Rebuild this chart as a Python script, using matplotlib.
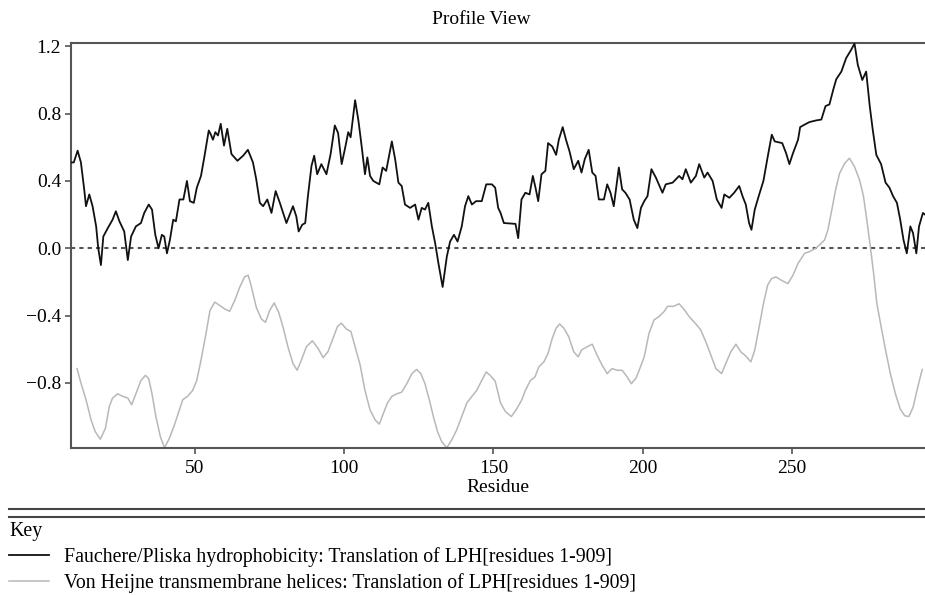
import matplotlib
matplotlib.use("Agg")
import matplotlib.pyplot as plt
from matplotlib.lines import Line2D

plt.rcParams['font.family'] = ['Liberation Serif', 'DejaVu Serif']
plt.rcParams['font.size'] = 14

# Fauchere/Pliska hydrophobicity
hyd_res = [8.5, 9.5, 10.8, 11.9, 13.0, 13.6, 14.7, 15.8, 17.0, 17.7, 18.6, 19.4, 20.9, 22.5, 23.6,
           24.8, 26.4, 27.6, 28.7, 30.3, 32.0, 33.1, 34.6, 35.7, 36.8, 37.9, 39.0, 39.8, 40.7, 41.7,
           42.8, 43.7, 44.9, 46.2, 47.4, 48.4, 49.7, 50.7, 52.1, 53.2, 54.7, 55.3, 56.1, 56.9, 57.8,
           58.7, 59.8, 60.9, 62.3, 64.3, 66.2, 67.8, 69.5, 70.6, 71.8, 72.9, 74.3, 75.7, 77.1, 78.5,
           80.7, 82.9, 84.0, 84.8, 86.0, 87.0, 87.9, 89.1, 90.0, 91.0, 92.4, 94.1, 95.5, 96.9, 98.0,
           99.2, 100.4, 101.4, 102.2, 103.7, 104.8, 105.9, 107.0, 107.8, 108.7, 109.8, 111.8, 112.9,
           114.1, 116.0, 117.1, 118.2, 119.3, 120.4, 122.1, 123.8, 124.9, 126.0, 127.1, 128.2, 129.4,
           130.5, 131.6, 133.0, 134.4, 135.5, 136.8, 138.0, 139.4, 140.5, 141.6, 142.8, 144.2, 146.1,
           147.6, 149.5, 150.6, 151.6, 152.4, 153.5, 157.4, 158.3, 159.4, 160.7, 162.1, 163.2, 164.1,
           165.0, 166.1, 167.4, 168.3, 169.7, 171.0, 171.9, 173.2, 174.3, 175.5, 176.9, 178.4, 179.5,
           180.6, 181.9, 183.1, 184.2, 185.3, 187.0, 188.1, 189.2, 190.3, 192.0, 193.1, 194.2, 195.6,
           197.0, 198.2, 199.4, 200.5, 201.6, 202.9, 204.4, 206.6, 207.7, 210.0, 212.2, 213.3, 214.4,
           216.1, 217.8, 218.9, 220.6, 221.7, 223.4, 224.8, 226.4, 227.3, 229.0, 230.6, 232.3, 233.4,
           234.5, 235.6, 236.4, 237.5, 239.0, 240.4, 241.8, 243.2, 244.2, 246.7, 248.0, 249.1, 250.3,
           252.0, 252.7, 254.2, 255.8, 258.1, 259.8, 261.2, 262.5, 263.9, 264.8, 266.5, 268.1, 269.8,
           270.9, 272.0, 273.5, 274.8, 276.0, 277.0, 278.2, 279.8, 281.3, 282.6, 283.8, 285.1, 286.2,
           287.3, 288.4, 289.6, 290.5, 291.6, 292.5, 293.8, 294.5]
hyd_val = [0.51, 0.51, 0.58, 0.51, 0.35, 0.25, 0.32, 0.25, 0.13, 0.0, -0.10, 0.07, 0.12, 0.17, 0.22,
           0.16, 0.10, -0.07, 0.07, 0.13, 0.15, 0.21, 0.26, 0.23, 0.08, 0.0, 0.08, 0.07, -0.03, 0.05,
           0.17, 0.16, 0.29, 0.29, 0.40, 0.28, 0.27, 0.36, 0.43, 0.54, 0.70, 0.68, 0.645, 0.69, 0.67,
           0.74, 0.61, 0.71, 0.56, 0.52, 0.55, 0.585, 0.51, 0.41, 0.27, 0.25, 0.29, 0.21, 0.34, 0.27,
           0.15, 0.25, 0.19, 0.10, 0.14, 0.15, 0.31, 0.49, 0.55, 0.44, 0.50, 0.44, 0.56, 0.73, 0.685,
           0.50, 0.60, 0.69, 0.66, 0.88, 0.76, 0.605, 0.44, 0.54, 0.43, 0.40, 0.38, 0.48,
           0.46, 0.635, 0.53, 0.39, 0.37, 0.26, 0.24, 0.26, 0.17, 0.24, 0.23, 0.27, 0.13,
           0.03, -0.09, -0.23, -0.05, 0.04, 0.08, 0.04, 0.13, 0.25, 0.31, 0.26, 0.28, 0.28,
           0.38, 0.38, 0.36, 0.24, 0.21, 0.15, 0.145, 0.06, 0.29, 0.33, 0.32, 0.43, 0.36,
           0.28, 0.44, 0.46, 0.625, 0.605, 0.555, 0.645, 0.72, 0.645, 0.575, 0.47, 0.52, 0.45,
           0.53, 0.585, 0.45, 0.43, 0.29, 0.29, 0.38, 0.33, 0.25, 0.48, 0.35, 0.33, 0.29,
           0.17, 0.12, 0.24, 0.28, 0.31, 0.47, 0.42, 0.33, 0.38, 0.39, 0.43, 0.41, 0.47,
           0.39, 0.43, 0.50, 0.42, 0.45, 0.40, 0.29, 0.24, 0.32, 0.30, 0.33, 0.37, 0.31,
           0.26, 0.15, 0.11, 0.23, 0.32, 0.40, 0.54, 0.675, 0.635, 0.625, 0.565, 0.50, 0.565,
           0.645, 0.72, 0.735, 0.75, 0.76, 0.765, 0.845, 0.855, 0.95, 1.005, 1.05, 1.13, 1.18,
           1.217, 1.09, 1.00, 1.05, 0.845, 0.705, 0.555, 0.50, 0.39, 0.36, 0.31, 0.27, 0.17,
           0.05, -0.03, 0.13, 0.09, -0.03, 0.13, 0.21, 0.20]

# Von Heijne transmembrane helices
tm_res = [10.6, 11.9, 13.6, 15.3, 16.7, 18.4, 20.1, 21.4, 22.5, 24.2, 25.9, 27.6, 28.9, 30.3, 32.0,
          33.5, 34.6, 35.7, 37.0, 38.5, 39.9, 41.5, 43.2, 44.9, 46.0, 47.6, 49.3, 50.7, 52.1, 53.8,
          55.1, 56.7, 58.4, 60.0, 61.7, 63.4, 65.1, 66.7, 67.9, 69.0, 70.6, 72.3, 73.7, 75.1, 76.6,
          78.1, 79.6, 81.2, 82.9, 84.3, 85.7, 87.4, 89.4, 91.3, 93.0, 94.6, 96.3, 97.8, 99.1, 100.8,
          102.3, 103.7, 105.4, 107.0, 108.7, 110.4, 111.8, 113.2, 114.5, 116.0, 117.6, 119.3, 121.0,
          122.7, 124.3, 125.7, 127.1, 128.6, 129.9, 131.3, 132.7, 134.4, 136.0, 137.7, 139.4, 141.1,
          142.8, 144.4, 146.1, 147.6, 148.9, 150.6, 152.4, 154.0, 156.0, 157.6, 159.4, 160.7, 162.4,
          163.9, 165.2, 166.9, 168.3, 169.7, 171.0, 172.2, 173.6, 175.2, 176.9, 178.4, 179.5, 181.4,
          183.1, 184.7, 186.4, 188.1, 189.7, 191.4, 193.1, 194.8, 196.2, 197.8, 198.8, 200.5, 202.1,
          203.8, 205.5, 207.2, 208.3, 210.3, 212.2, 213.9, 215.5, 217.8, 219.4, 221.1, 222.8, 224.5,
          226.4, 227.8, 229.5, 231.2, 232.8, 234.5, 236.2, 237.5, 239.0, 240.4, 241.8, 243.1, 244.6,
          246.4, 248.6, 250.3, 252.0, 254.2, 255.8, 257.9, 259.2, 260.9, 262.0, 263.1, 264.6, 265.9,
          267.6, 269.2, 270.9, 272.6, 273.9, 275.0, 276.2, 277.3, 278.4, 279.8, 281.3, 282.9, 284.6,
          286.2, 287.7, 289.1, 290.5, 291.8, 293.2, 293.6]
tm_val = [-0.715, -0.80, -0.90, -1.02, -1.09, -1.135, -1.07, -0.94, -0.89, -0.865, -0.88, -0.89, -0.93,
          -0.865, -0.785, -0.755, -0.775, -0.865, -1.00, -1.12, -1.185, -1.13, -1.05, -0.96, -0.90,
          -0.88, -0.845, -0.785, -0.665, -0.505, -0.37, -0.32, -0.34, -0.36, -0.375, -0.31, -0.23,
          -0.17, -0.16, -0.23, -0.35, -0.42, -0.44, -0.37, -0.325, -0.38, -0.47, -0.585, -0.685,
          -0.725, -0.665, -0.585, -0.55, -0.595, -0.65, -0.615, -0.535, -0.465, -0.445, -0.48,
          -0.495, -0.585, -0.695, -0.845, -0.96, -1.02, -1.045, -0.98, -0.92, -0.88, -0.865, -0.855,
          -0.805, -0.745, -0.72, -0.745, -0.805, -0.905, -1.00, -1.09, -1.15, -1.185, -1.14, -1.08,
          -1.00, -0.92, -0.88, -0.845, -0.785, -0.735, -0.755, -0.79, -0.92, -0.97, -1.00, -0.96,
          -0.905, -0.845, -0.785, -0.765, -0.705, -0.675, -0.625, -0.535, -0.475, -0.45, -0.475,
          -0.525, -0.615, -0.645, -0.605, -0.585, -0.57, -0.635, -0.695, -0.745, -0.715, -0.725,
          -0.725, -0.765, -0.805, -0.77, -0.725, -0.645, -0.505, -0.425, -0.405, -0.375, -0.345,
          -0.345, -0.33, -0.365, -0.405, -0.45, -0.485, -0.555, -0.635, -0.715, -0.745, -0.685,
          -0.615, -0.57, -0.615, -0.64, -0.675, -0.605, -0.465, -0.33, -0.22, -0.18, -0.17, -0.19,
          -0.21, -0.16, -0.09, -0.03, -0.02, 0.0, 0.02, 0.05, 0.11, 0.21, 0.35, 0.445, 0.505, 0.535,
          0.485, 0.405, 0.31, 0.17, 0.01, -0.15, -0.33, -0.465, -0.605, -0.745, -0.865, -0.955,
          -0.995, -1.00, -0.945, -0.845, -0.745, -0.72]

x_ticks = [50, 100, 150, 200, 250]
y_ticks = [-0.8, -0.4, 0.0, 0.4, 0.8, 1.2]
hyd_label = "Fauchere/Pliska hydrophobicity: Translation of LPH[residues 1-909]"
tm_label = "Von Heijne transmembrane helices: Translation of LPH[residues 1-909]"

fig = plt.figure(figsize=(9.25, 5.95), dpi=100)
ax = fig.add_axes([0.0765, 0.2476, 0.9235, 0.6796])

ax.axhline(0, color='#555555', lw=1.5, ls=(0, (2, 2)), zorder=1)
l1, = ax.plot(hyd_res, hyd_val, color='#111111', lw=1.3, zorder=3, label=hyd_label)
l2, = ax.plot(tm_res, tm_val, color='#b8b8b8', lw=1.1, zorder=2, label=tm_label)

ax.set_xlim(8.5, 294.5)
ax.set_ylim(-1.185, 1.218)
ax.set_xticks(x_ticks)
ax.set_yticks(y_ticks)
ax.set_xlabel("Residue", labelpad=1)
ax.tick_params(direction='out', length=4, width=1.2, color='#555555', pad=3)
ax.tick_params(axis='x', pad=5)
for s in ['left', 'bottom', 'top']:
    ax.spines[s].set_color('#555555')
    ax.spines[s].set_linewidth(1.5)
ax.spines['right'].set_visible(False)

fig.text(0.5208, 0.968, "Profile View", ha='center', va='center', fontsize=14)

# separator above the key
for yy in [0.1440, 0.1316]:
    fig.add_artist(Line2D([9 / 925, 1.0], [yy, yy], color='#444444', lw=1.5))

leg = fig.legend(handles=[l1, l2], title="Key", loc='upper left',
                 bbox_to_anchor=(9 / 925, 1 - 522 / 595), frameon=False,
                 borderpad=0, borderaxespad=0, handlelength=2.0, handletextpad=0.75,
                 labelspacing=0.3, alignment='left', fontsize=14.3, title_fontsize=14.3)

fig.savefig("out.png", dpi=100)
